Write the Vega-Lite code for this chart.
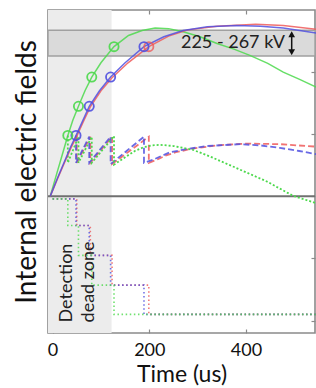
{
  "$schema": "https://vega.github.io/schema/vega-lite/v6.json",
  "autosize": "none",
  "width": 267,
  "height": 323,
  "padding": {"left": 48, "top": 10, "right": 1, "bottom": 55},
  "config": {
    "view": {"stroke": "#8a8a8a", "strokeWidth": 1.6},
    "font": "Lato",
    "axis": {"grid": false, "domain": false, "tickColor": "#8a8a8a", "tickWidth": 1.2, "labelColor": "#111", "titleColor": "#111", "labelFont": "Lato", "titleFont": "Lato", "titleFontWeight": "normal"}
  },
  "resolve": {"axis": {"x": "independent", "y": "independent"}},
  "datasets": {
    "zone": [{"x1": -9.5, "x2": 122, "y1": -0.2, "y2": 5.0}],
    "band": [{"x1": -9.5, "x2": 542.7, "y1": 4.26, "y2": 4.675}],
    "solid": [
      {"s": "g", "t": -5, "v": 2.0}, {"s": "g", "t": 8, "v": 2.35}, {"s": "g", "t": 20, "v": 2.67}, {"s": "g", "t": 31.5, "v": 2.98}, {"s": "g", "t": 42, "v": 3.23}, {"s": "g", "t": 53.5, "v": 3.45}, {"s": "g", "t": 67, "v": 3.7}, {"s": "g", "t": 81, "v": 3.92}, {"s": "g", "t": 100, "v": 4.15}, {"s": "g", "t": 127, "v": 4.41}, {"s": "g", "t": 157, "v": 4.59}, {"s": "g", "t": 185, "v": 4.67}, {"s": "g", "t": 212, "v": 4.71}, {"s": "g", "t": 240, "v": 4.7}, {"s": "g", "t": 270, "v": 4.65}, {"s": "g", "t": 305, "v": 4.57}, {"s": "g", "t": 340, "v": 4.46}, {"s": "g", "t": 375, "v": 4.37}, {"s": "g", "t": 408, "v": 4.27}, {"s": "g", "t": 445, "v": 4.14}, {"s": "g", "t": 477, "v": 4.0}, {"s": "g", "t": 512, "v": 3.88}, {"s": "g", "t": 545, "v": 3.76},
      {"s": "r", "t": -5, "v": 2.0}, {"s": "r", "t": 10, "v": 2.28}, {"s": "r", "t": 25, "v": 2.55}, {"s": "r", "t": 38, "v": 2.78}, {"s": "r", "t": 50, "v": 2.97}, {"s": "r", "t": 64, "v": 3.21}, {"s": "r", "t": 78, "v": 3.44}, {"s": "r", "t": 100, "v": 3.7}, {"s": "r", "t": 123, "v": 3.91}, {"s": "r", "t": 156, "v": 4.15}, {"s": "r", "t": 199, "v": 4.41}, {"s": "r", "t": 240, "v": 4.58}, {"s": "r", "t": 280, "v": 4.68}, {"s": "r", "t": 340, "v": 4.74}, {"s": "r", "t": 420, "v": 4.77}, {"s": "r", "t": 477, "v": 4.75}, {"s": "r", "t": 545, "v": 4.69},
      {"s": "b", "t": -5, "v": 2.0}, {"s": "b", "t": 10, "v": 2.29}, {"s": "b", "t": 25, "v": 2.57}, {"s": "b", "t": 37, "v": 2.79}, {"s": "b", "t": 48.4, "v": 2.98}, {"s": "b", "t": 62, "v": 3.21}, {"s": "b", "t": 75.8, "v": 3.45}, {"s": "b", "t": 97, "v": 3.7}, {"s": "b", "t": 120, "v": 3.92}, {"s": "b", "t": 150, "v": 4.15}, {"s": "b", "t": 189, "v": 4.41}, {"s": "b", "t": 230, "v": 4.57}, {"s": "b", "t": 270, "v": 4.67}, {"s": "b", "t": 320, "v": 4.73}, {"s": "b", "t": 381, "v": 4.75}, {"s": "b", "t": 430, "v": 4.74}, {"s": "b", "t": 477, "v": 4.71}, {"s": "b", "t": 545, "v": 4.63}
    ],
    "dashBR": [
      {"s": "r", "t": 50, "v": 2.98}, {"s": "r", "t": 50, "v": 2.54}, {"s": "r", "t": 78, "v": 2.96}, {"s": "r", "t": 78, "v": 2.54}, {"s": "r", "t": 123, "v": 2.96}, {"s": "r", "t": 123, "v": 2.52}, {"s": "r", "t": 199, "v": 2.96}, {"s": "r", "t": 199, "v": 2.54}, {"s": "r", "t": 218, "v": 2.6}, {"s": "r", "t": 235, "v": 2.66}, {"s": "r", "t": 255, "v": 2.71}, {"s": "r", "t": 290, "v": 2.77}, {"s": "r", "t": 340, "v": 2.82}, {"s": "r", "t": 400, "v": 2.85}, {"s": "r", "t": 470, "v": 2.84}, {"s": "r", "t": 545, "v": 2.8},
      {"s": "b", "t": 48.4, "v": 2.98}, {"s": "b", "t": 48.4, "v": 2.54}, {"s": "b", "t": 75.8, "v": 2.96}, {"s": "b", "t": 75.8, "v": 2.54}, {"s": "b", "t": 120, "v": 2.96}, {"s": "b", "t": 120, "v": 2.52}, {"s": "b", "t": 189, "v": 2.96}, {"s": "b", "t": 189, "v": 2.54}, {"s": "b", "t": 208, "v": 2.59}, {"s": "b", "t": 225, "v": 2.65}, {"s": "b", "t": 243, "v": 2.71}, {"s": "b", "t": 277, "v": 2.76}, {"s": "b", "t": 319, "v": 2.81}, {"s": "b", "t": 388, "v": 2.84}, {"s": "b", "t": 430, "v": 2.82}, {"s": "b", "t": 470, "v": 2.78}, {"s": "b", "t": 510, "v": 2.73}, {"s": "b", "t": 545, "v": 2.68}
    ],
    "dashG": [
      {"s": "g", "t": 31.5, "v": 2.98}, {"s": "g", "t": 31.5, "v": 2.54}, {"s": "g", "t": 53.5, "v": 2.96}, {"s": "g", "t": 53.5, "v": 2.54}, {"s": "g", "t": 81, "v": 2.96}, {"s": "g", "t": 81, "v": 2.54}, {"s": "g", "t": 127, "v": 2.97}, {"s": "g", "t": 127, "v": 2.51}, {"s": "g", "t": 150, "v": 2.63}, {"s": "g", "t": 170, "v": 2.73}, {"s": "g", "t": 188, "v": 2.79}, {"s": "g", "t": 205, "v": 2.82}, {"s": "g", "t": 222, "v": 2.83}, {"s": "g", "t": 250, "v": 2.81}, {"s": "g", "t": 290, "v": 2.75}, {"s": "g", "t": 326, "v": 2.64}, {"s": "g", "t": 373, "v": 2.48}, {"s": "g", "t": 443, "v": 2.24}, {"s": "g", "t": 497, "v": 2.01}, {"s": "g", "t": 545, "v": 1.89}
    ],
    "steps": [
      {"s": "r", "t": 0, "v": 1.96}, {"s": "r", "t": 50, "v": 1.96}, {"s": "r", "t": 50, "v": 1.53}, {"s": "r", "t": 78, "v": 1.53}, {"s": "r", "t": 78, "v": 1.05}, {"s": "r", "t": 123, "v": 1.05}, {"s": "r", "t": 123, "v": 0.57}, {"s": "r", "t": 199, "v": 0.57}, {"s": "r", "t": 199, "v": 0.1}, {"s": "r", "t": 545, "v": 0.1},
      {"s": "b", "t": 0, "v": 1.96}, {"s": "b", "t": 48.4, "v": 1.96}, {"s": "b", "t": 48.4, "v": 1.53}, {"s": "b", "t": 75.8, "v": 1.53}, {"s": "b", "t": 75.8, "v": 1.05}, {"s": "b", "t": 120, "v": 1.05}, {"s": "b", "t": 120, "v": 0.57}, {"s": "b", "t": 189, "v": 0.57}, {"s": "b", "t": 189, "v": 0.1}, {"s": "b", "t": 545, "v": 0.1},
      {"s": "g", "t": 0, "v": 1.96}, {"s": "g", "t": 31.5, "v": 1.96}, {"s": "g", "t": 31.5, "v": 1.53}, {"s": "g", "t": 53.5, "v": 1.53}, {"s": "g", "t": 53.5, "v": 1.05}, {"s": "g", "t": 81, "v": 1.05}, {"s": "g", "t": 81, "v": 0.57}, {"s": "g", "t": 127, "v": 0.57}, {"s": "g", "t": 127, "v": 0.1}, {"s": "g", "t": 545, "v": 0.1}
    ],
    "circR": [{"s": "r", "t": 199, "v": 4.41}],
    "circBG": [
      {"s": "b", "t": 48.4, "v": 2.98}, {"s": "b", "t": 75.8, "v": 3.45}, {"s": "b", "t": 120, "v": 3.92}, {"s": "b", "t": 189, "v": 4.41},
      {"s": "g", "t": 31.5, "v": 2.98}, {"s": "g", "t": 53.5, "v": 3.45}, {"s": "g", "t": 81, "v": 3.92}, {"s": "g", "t": 127, "v": 4.41}
    ],
    "arrow": [{"t": 494.5, "v1": 4.33, "v2": 4.6}],
    "heads": [{"t": 494.5, "v": 4.61, "shape": "triangle-up"}, {"t": 494.5, "v": 4.32, "shape": "triangle-down"}],
    "kv": [{"t": 373, "v": 4.47, "txt": "225 - 267 kV"}],
    "dz": [{"t": 30, "v": -0.03, "txt": "Detection\ndead zone"}]
  },
  "layer": [
    {
      "data": {"name": "zone"},
      "mark": {"type": "rect", "color": "#ececec"},
      "encoding": {
        "x": {"field": "x1", "type": "quantitative", "scale": {"domain": [-9.5, 542.7], "nice": false, "zero": false},
              "axis": {"orient": "bottom", "values": [0, 200, 400], "tickSize": -4, "labelPadding": 12, "labelFontSize": 18, "title": "Time (us)", "titleFontSize": 23, "titlePadding": 4}},
        "x2": {"field": "x2"},
        "y": {"field": "y1", "type": "quantitative", "scale": {"domain": [-0.2, 5.0], "nice": false, "zero": false},
              "axis": {"orient": "left", "values": [0, 1, 2, 3, 4], "tickSize": -4, "labels": false, "title": "Internal electric fields", "titleFontSize": 28, "titlePadding": 6}},
        "y2": {"field": "y2"}
      }
    },
    {
      "data": {"name": "band"},
      "mark": {"type": "rect", "color": "#dadada", "stroke": "#a0a0a0", "strokeWidth": 1.4},
      "encoding": {
        "x": {"field": "x1", "type": "quantitative", "axis": {"orient": "top", "values": [0, 200, 400], "tickSize": -4, "labels": false, "title": null}},
        "x2": {"field": "x2"},
        "y": {"field": "y1", "type": "quantitative", "axis": {"orient": "right", "values": [0, 1, 2, 3, 4], "tickSize": -4, "labels": false, "title": null}},
        "y2": {"field": "y2"}
      }
    },
    {
      "data": {"values": [{"v": 2}]},
      "mark": {"type": "rule", "color": "#707070", "strokeWidth": 2},
      "encoding": {"y": {"field": "v", "type": "quantitative", "axis": null}}
    },
    {
      "data": {"name": "steps"},
      "mark": {"type": "line", "strokeWidth": 1.6, "strokeDash": [1.5, 2.6], "opacity": 0.8},
      "encoding": {
        "x": {"field": "t", "type": "quantitative", "axis": null},
        "y": {"field": "v", "type": "quantitative", "axis": null},
        "detail": {"field": "s"},
        "order": {"value": null},
        "color": {"field": "s", "type": "nominal", "legend": null, "scale": {"domain": ["g", "b", "r"], "range": ["#4cd94c", "#5050e0", "#ee5a5a"]}}
      }
    },
    {
      "data": {"name": "dashBR"},
      "mark": {"type": "line", "strokeWidth": 1.8, "strokeDash": [6, 3], "opacity": 0.85},
      "encoding": {
        "x": {"field": "t", "type": "quantitative", "axis": null},
        "y": {"field": "v", "type": "quantitative", "axis": null},
        "detail": {"field": "s"},
        "order": {"value": null},
        "color": {"field": "s", "type": "nominal", "legend": null}
      }
    },
    {
      "data": {"name": "dashG"},
      "mark": {"type": "line", "strokeWidth": 1.8, "strokeDash": [2, 2]},
      "encoding": {
        "x": {"field": "t", "type": "quantitative", "axis": null},
        "y": {"field": "v", "type": "quantitative", "axis": null},
        "order": {"value": null},
        "color": {"field": "s", "type": "nominal", "legend": null}
      }
    },
    {
      "data": {"name": "solid"},
      "mark": {"type": "line", "strokeWidth": 1.5, "opacity": 0.85},
      "encoding": {
        "x": {"field": "t", "type": "quantitative", "axis": null},
        "y": {"field": "v", "type": "quantitative", "axis": null},
        "detail": {"field": "s"},
        "order": {"value": null},
        "color": {"field": "s", "type": "nominal", "legend": null}
      }
    },
    {
      "data": {"name": "circR"},
      "mark": {"type": "point", "filled": false, "size": 85, "strokeWidth": 1.8, "opacity": 0.8},
      "encoding": {
        "x": {"field": "t", "type": "quantitative", "axis": null},
        "y": {"field": "v", "type": "quantitative", "axis": null},
        "color": {"field": "s", "type": "nominal", "legend": null}
      }
    },
    {
      "data": {"name": "circBG"},
      "mark": {"type": "point", "filled": false, "size": 85, "strokeWidth": 1.8, "opacity": 0.9},
      "encoding": {
        "x": {"field": "t", "type": "quantitative", "axis": null},
        "y": {"field": "v", "type": "quantitative", "axis": null},
        "color": {"field": "s", "type": "nominal", "legend": null}
      }
    },
    {
      "data": {"name": "arrow"},
      "mark": {"type": "rule", "color": "#111", "strokeWidth": 1.5},
      "encoding": {
        "x": {"field": "t", "type": "quantitative", "axis": null},
        "y": {"field": "v1", "type": "quantitative", "axis": null},
        "y2": {"field": "v2"}
      }
    },
    {
      "data": {"name": "heads"},
      "mark": {"type": "point", "filled": true, "size": 45, "color": "#111", "opacity": 1},
      "encoding": {
        "x": {"field": "t", "type": "quantitative", "axis": null},
        "y": {"field": "v", "type": "quantitative", "axis": null},
        "shape": {"field": "shape", "type": "nominal", "legend": null, "scale": null}
      }
    },
    {
      "data": {"name": "kv"},
      "mark": {"type": "text", "fontSize": 18, "color": "#222", "align": "center", "baseline": "middle"},
      "encoding": {
        "x": {"field": "t", "type": "quantitative", "axis": null},
        "y": {"field": "v", "type": "quantitative", "axis": null},
        "text": {"field": "txt"}
      }
    },
    {
      "data": {"name": "dz"},
      "mark": {"type": "text", "fontSize": 18, "color": "#222", "align": "left", "baseline": "middle", "angle": 270, "lineBreak": "\n", "lineHeight": 22},
      "encoding": {
        "x": {"field": "t", "type": "quantitative", "axis": null},
        "y": {"field": "v", "type": "quantitative", "axis": null},
        "text": {"field": "txt"}
      }
    }
  ]
}
